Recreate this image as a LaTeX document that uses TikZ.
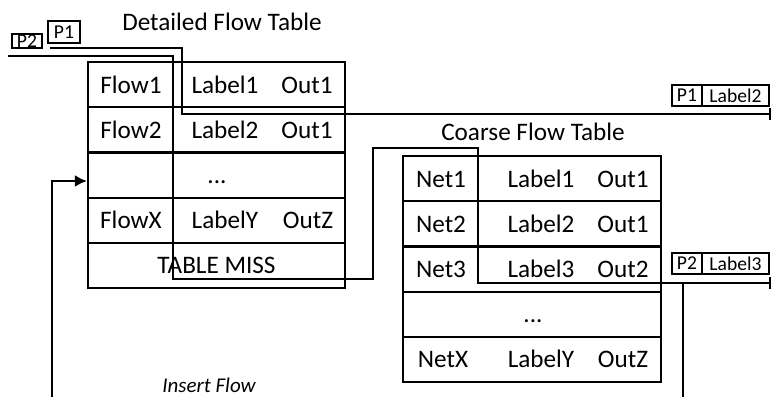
\documentclass[tikz,border=0pt]{standalone}
\usepackage{fontspec}
\setmainfont{Carlito}
\usetikzlibrary{arrows.meta}
\begin{document}
\begin{tikzpicture}[x=0.5pt,y=-0.5pt,line width=1.1pt,
  rowbox/.style={draw,rectangle,inner sep=0pt,minimum height=22.6pt},
  drow/.style={rowbox,minimum width=128.5pt},
  crow/.style={rowbox,minimum width=129pt},
  cell/.style={inner sep=0pt,anchor=base,font=\fontsize{12.6}{15}\selectfont},
  tag/.style={draw,rectangle,inner sep=0pt,line width=0.7pt,font=\fontsize{9.8}{11}\selectfont},
  wire/.style={line width=1.1pt},
  endbar/.style={-{Bar[width=6pt,line width=1.1pt]}},
]
\useasboundingbox (0,0) rectangle (772,397);

% detailed flow table
\node[cell] (dtitle) at (222,30) {Detailed Flow Table};
\node[drow] (d1) at (216.5,84.6) {};
\node[drow] (d2) at (216.5,129.8) {};
\node[drow] (d3) at (216.5,175) {};
\node[drow] (d4) at (216.5,220.2) {};
\node[drow] (d5) at (216.5,265.4) {};
\node[cell] (d1a) at (131,93.1) {Flow1};
\node[cell] (d1b) at (225,93.1) {Label1};
\node[cell] (d1c) at (307,93.1) {Out1};
\node[cell] (d2a) at (131,138.3) {Flow2};
\node[cell] (d2b) at (225,138.3) {Label2};
\node[cell] (d2c) at (307,138.3) {Out1};
\node[cell] (d3b) at (217,183.5) {...};
\node[cell] (d4a) at (131,228.7) {FlowX};
\node[cell] (d4b) at (225,228.7) {LabelY};
\node[cell] (d4c) at (308,228.7) {OutZ};
\node[cell] (d5a) at (216.5,273.9) {TABLE MISS};

% coarse flow table
\node[cell] (ctitle) at (533,140) {Coarse Flow Table};
\node[crow] (c1) at (532,178.6) {};
\node[crow] (c2) at (532,223.8) {};
\node[crow] (c3) at (532,269) {};
\node[crow] (c4) at (532,314.2) {};
\node[crow] (c5) at (532,359.4) {};
\node[cell] (c1a) at (441,187.1) {Net1};
\node[cell] (c1b) at (541,187.1) {Label1};
\node[cell] (c1c) at (623,187.1) {Out1};
\node[cell] (c2a) at (441,232.3) {Net2};
\node[cell] (c2b) at (541,232.3) {Label2};
\node[cell] (c2c) at (623,232.3) {Out1};
\node[cell] (c3a) at (441,277.5) {Net3};
\node[cell] (c3b) at (541,277.5) {Label3};
\node[cell] (c3c) at (623,277.5) {Out2};
\node[cell] (c4b) at (533,322.7) {...};
\node[cell] (c5a) at (443,367.9) {NetX};
\node[cell] (c5b) at (541,367.9) {LabelY};
\node[cell] (c5c) at (623,367.9) {OutZ};

% packet tags
\node[tag,minimum width=16pt,minimum height=11pt] (tp1) at (64,32) {P1};
\node[tag,minimum width=15pt,minimum height=7pt] (tp2) at (27,41) {P2};
\node[tag,minimum width=15pt,minimum height=10.5pt] (rp1) at (687,95.5) {P1};
\node[tag,minimum width=33.5pt,minimum height=10.5pt] (rl2) at (735.5,95.5) {Label2};
\node[tag,minimum width=15pt,minimum height=10.5pt] (rp2) at (687,263.5) {P2};
\node[tag,minimum width=33.5pt,minimum height=10.5pt] (rl3) at (735.5,263.5) {Label3};

% packet paths
\coordinate (p1in) at (50,48);
\coordinate (p1out) at (771,114);
\draw[wire,endbar] (p1in) -- (182,48) |- (p1out);

\coordinate (p2in) at (8,56);
\coordinate (p2out) at (771,283);
\draw[wire,endbar] (p2in) -- (173,56) -- (173,279) -- (373,279)
  -- (373,148) -- (478,148) |- (p2out);

\coordinate (tap) at (683,283);
\coordinate (tapend) at (683,397);
\draw[wire] (tap) -- (tapend);

% insert flow
\coordinate (insfrom) at (52,397);
\draw[wire,-{Latex[length=6pt,width=6pt]}] (insfrom) |- ([yshift=-3pt]d3.west);
\node[cell,font=\fontsize{10.5}{12}\selectfont\itshape] (ins) at (209,392) {Insert Flow};
\end{tikzpicture}
\end{document}
